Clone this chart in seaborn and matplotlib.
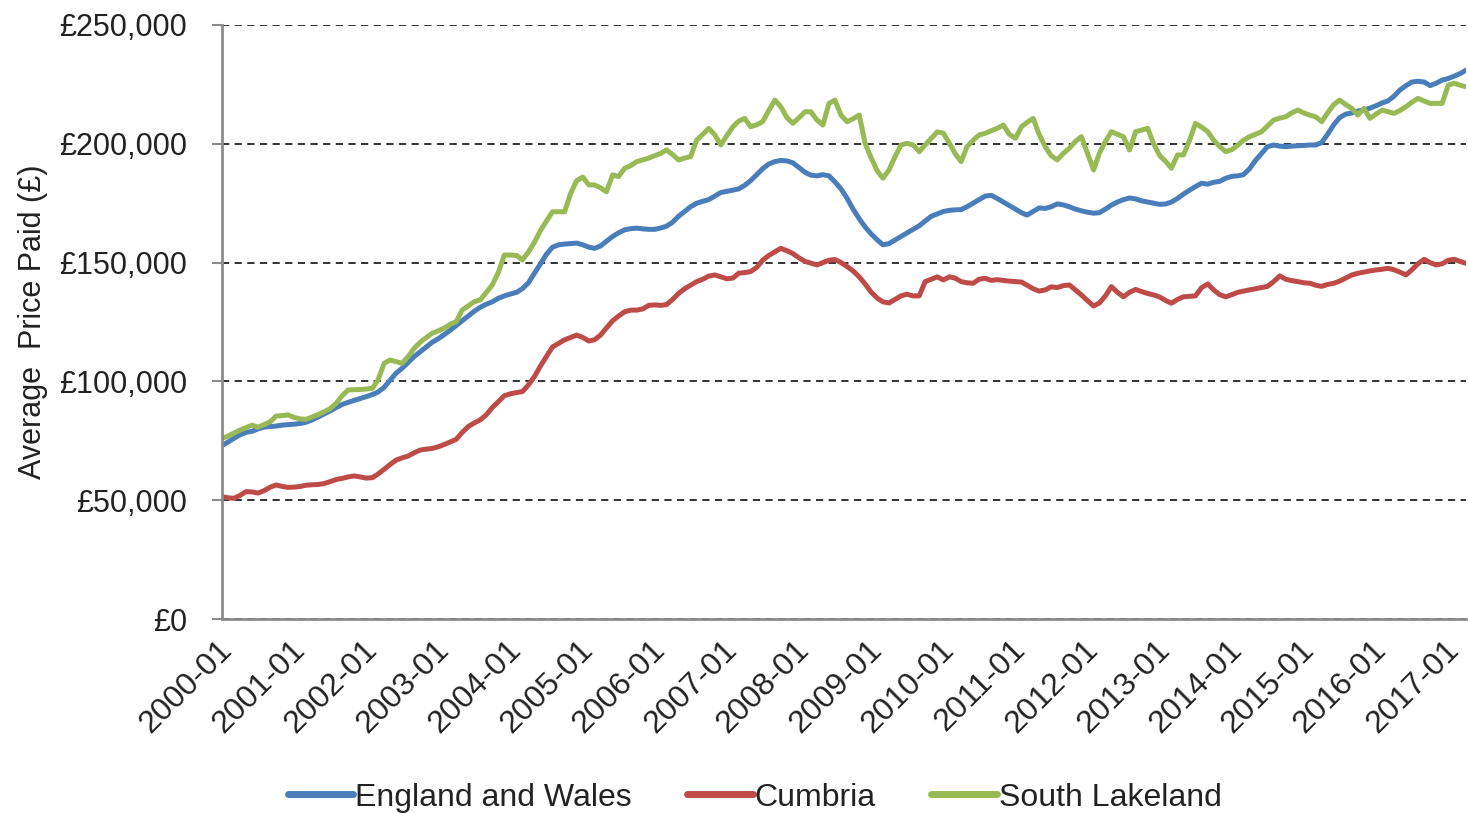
import matplotlib
matplotlib.use("Agg")
import matplotlib.pyplot as plt
import matplotlib.dates as mdates
from matplotlib.ticker import FuncFormatter, MultipleLocator
from matplotlib.transforms import ScaledTranslation
import numpy as np
import pandas as pd
import seaborn as sns

# Monthly average price paid, £ thousands, January 2000 to April 2017
months = pd.date_range("2000-01-01", "2017-04-01", freq="MS")

england_wales = [
    73.0, 74.5, 76.0, 77.5, 78.5, 79.0, 80.0, 80.8, 81.0, 81.2, 81.6, 81.8,        # 2000
    82.0, 82.3, 82.8, 83.8, 85.0, 86.3, 87.5, 89.0, 90.3, 91.2, 92.0, 92.8,        # 2001
    93.6, 94.5, 95.5, 97.5, 100.5, 103.5, 105.5, 108.0, 110.5, 112.5, 114.5, 116.5,  # 2002
    118.0, 119.8, 121.5, 123.5, 125.5, 127.5, 129.5, 131.2, 132.5, 133.5, 135.0, 136.0,  # 2003
    136.8, 137.5, 139.0, 141.5, 145.5, 149.5, 153.5, 156.5, 157.5, 157.8, 158.0, 158.2,  # 2004
    157.5, 156.5, 156.0, 157.0, 159.0, 161.0, 162.5, 163.8, 164.3, 164.5, 164.2, 164.0,  # 2005
    164.0, 164.6, 165.3, 167.0, 169.5, 171.5, 173.5, 175.0, 175.8, 176.5, 178.0, 179.5,  # 2006
    180.0, 180.5, 181.0, 182.5, 184.5, 187.0, 189.5, 191.5, 192.5, 193.0, 192.8, 192.0,  # 2007
    190.0, 188.0, 186.8, 186.5, 187.0, 186.5, 184.0, 181.0, 177.0, 172.5, 168.5, 165.0,  # 2008
    162.0, 159.5, 157.5, 158.0, 159.5, 161.0, 162.5, 164.0, 165.5, 167.5, 169.5, 170.5,  # 2009
    171.5, 172.0, 172.2, 172.3, 173.5, 175.0, 176.5, 178.0, 178.3, 177.0, 175.5, 174.0,  # 2010
    172.5, 171.0, 170.0, 171.5, 173.0, 172.8, 173.5, 174.7, 174.3, 173.5, 172.5, 171.8,  # 2011
    171.2, 170.8, 171.0, 172.5, 174.2, 175.5, 176.5, 177.2, 176.8, 176.0, 175.5, 175.0,  # 2012
    174.5, 174.7, 175.5, 177.0, 178.8, 180.5, 182.0, 183.4, 183.0, 183.8, 184.2, 185.5,  # 2013
    186.3, 186.5, 187.0, 189.5, 193.0, 196.0, 198.8, 199.5, 199.0, 198.8, 199.0, 199.2,  # 2014
    199.3, 199.5, 199.5, 200.5, 204.0, 208.0, 211.0, 212.5, 213.0, 213.8, 214.2, 215.0,  # 2015
    216.0, 217.2, 218.0, 220.0, 222.6, 224.5, 226.0, 226.3, 226.0, 224.5, 225.5, 226.8,  # 2016
    227.5, 228.5, 229.5, 231.0,                                                    # 2017
]

cumbria = [
    51.5, 51.0, 50.8, 52.0, 53.6, 53.5, 53.0, 54.0, 55.5, 56.4, 55.8, 55.4,        # 2000
    55.5, 55.8, 56.3, 56.5, 56.6, 57.0, 57.8, 58.7, 59.2, 59.8, 60.2, 59.8,        # 2001
    59.3, 59.5, 61.0, 63.0, 65.0, 66.9, 67.8, 68.6, 70.0, 71.1, 71.5, 71.8,        # 2002
    72.5, 73.5, 74.5, 75.6, 78.5, 81.0, 82.5, 83.8, 86.0, 89.0, 91.5, 94.0,        # 2003
    94.8, 95.3, 95.7, 98.5, 102.0, 106.5, 110.5, 114.5, 116.0, 117.5, 118.5, 119.5,  # 2004
    118.5, 117.0, 117.5, 119.5, 122.5, 125.5, 127.5, 129.3, 130.0, 130.0, 130.5, 132.0,  # 2005
    132.2, 132.0, 132.3, 134.5, 137.0, 139.0, 140.5, 142.0, 143.0, 144.3, 144.8, 144.0,  # 2006
    143.2, 143.5, 145.5, 145.8, 146.2, 148.0, 151.0, 153.0, 154.5, 156.0, 155.0, 153.8,  # 2007
    152.0, 150.5, 149.8, 149.0, 150.0, 151.0, 151.3, 150.0, 148.3, 146.5, 144.0, 141.0,  # 2008
    137.5, 135.0, 133.5, 133.0, 134.5, 136.0, 136.7, 136.0, 136.0, 142.0, 143.0, 144.0,  # 2009
    142.7, 144.0, 143.5, 142.0, 141.5, 141.3, 143.0, 143.4, 142.5, 142.8, 142.5, 142.2,  # 2010
    142.0, 141.8, 140.5, 139.0, 138.0, 138.5, 139.8, 139.5, 140.3, 140.6, 138.5, 136.4,  # 2011
    134.0, 131.7, 133.0, 136.0, 139.9, 137.5, 135.6, 137.5, 138.7, 137.8, 137.0, 136.4,  # 2012
    135.5, 134.0, 132.9, 134.5, 135.6, 135.8, 136.0, 139.5, 141.0, 138.5, 136.5, 135.6,  # 2013
    136.5, 137.5, 138.0, 138.5, 139.0, 139.5, 140.0, 142.0, 144.4, 143.0, 142.4, 142.0,  # 2014
    141.5, 141.3, 140.5, 140.0, 140.8, 141.3, 142.2, 143.5, 144.8, 145.5, 146.0, 146.5,  # 2015
    146.9, 147.2, 147.6, 147.0, 146.0, 144.8, 147.0, 149.5, 151.4, 150.0, 149.0, 149.5,  # 2016
    151.0, 151.4, 150.5, 149.7,                                                    # 2017
]

south_lakeland = [
    76.0, 77.0, 78.2, 79.5, 80.5, 81.6, 80.7, 81.8, 83.0, 85.4, 85.6, 85.9,        # 2000
    84.8, 84.2, 84.0, 85.0, 86.0, 87.2, 88.5, 90.8, 94.0, 96.4, 96.5, 96.6,        # 2001
    96.8, 97.1, 100.6, 107.6, 109.0, 108.3, 107.6, 110.5, 114.0, 116.5, 118.5, 120.3,  # 2002
    121.3, 122.5, 124.0, 125.1, 130.0, 131.8, 133.5, 134.3, 137.5, 140.6, 146.0, 153.2,  # 2003
    153.2, 153.0, 151.1, 154.5, 158.5, 163.5, 167.5, 171.4, 171.4, 171.4, 179.2, 184.5,  # 2004
    186.0, 182.7, 182.7, 181.5, 179.8, 186.9, 186.2, 189.7, 190.8, 192.5, 193.2, 194.0,  # 2005
    195.0, 196.0, 197.4, 195.5, 193.2, 194.0, 194.6, 201.6, 204.0, 206.5, 203.7, 199.5,  # 2006
    203.5, 207.2, 209.5, 210.7, 207.2, 208.0, 209.3, 214.0, 218.4, 215.6, 211.0, 208.6,  # 2007
    211.0, 213.5, 213.5, 210.0, 207.9, 217.0, 218.4, 212.0, 209.3, 210.5, 212.1, 200.2,  # 2008
    194.0, 188.5, 185.5, 189.0, 194.5, 199.5, 200.2, 199.5, 196.7, 199.5, 202.3, 205.0,  # 2009
    204.5, 200.2, 196.0, 192.5, 198.8, 201.5, 203.7, 204.4, 205.5, 206.5, 207.9, 204.0,  # 2010
    202.3, 207.2, 209.0, 210.7, 204.0, 198.8, 195.0, 193.2, 196.0, 198.1, 201.0, 203.0,  # 2011
    196.0, 189.0, 196.0, 201.0, 205.1, 204.0, 203.0, 197.4, 205.1, 205.8, 206.5, 200.0,  # 2012
    195.0, 192.5, 189.7, 195.3, 195.3, 201.5, 208.6, 207.0, 205.1, 201.5, 198.8, 196.7,  # 2013
    197.5, 199.5, 201.5, 203.0, 204.0, 205.1, 207.5, 210.0, 210.8, 211.4, 213.0, 214.2,  # 2014
    213.0, 212.0, 211.4, 209.3, 213.0, 216.5, 218.4, 216.5, 214.9, 212.1, 214.9, 210.7,  # 2015
    212.5, 214.2, 213.5, 212.8, 214.0, 215.6, 217.5, 219.1, 218.0, 217.0, 217.0, 217.0,  # 2016
    224.7, 225.5, 224.7, 224.0,                                                    # 2017
]

areas = ["England and Wales", "Cumbria", "South Lakeland"]
colours = ["#4A7EBB", "#BE4B48", "#98B954"]

frames = []
for name, vals in zip(areas, [england_wales, cumbria, south_lakeland]):
    frames.append(pd.DataFrame({"month": months, "price": np.array(vals) * 1000, "area": name}))
df = pd.concat(frames, ignore_index=True)

sns.set_theme(style="white")
plt.rcParams["font.family"] = ["Liberation Sans", "DejaVu Sans"]
text_col = "#222222"

fig = plt.figure(figsize=(14.68, 8.13), dpi=100)
ax = fig.add_axes([222 / 1468, (813 - 619) / 813, (1466 - 222) / 1468, (619 - 25) / 813])

sns.lineplot(data=df, x="month", y="price", hue="area", hue_order=areas,
             palette=colours, linewidth=3.6, ax=ax, legend=True)

ax.set_xlim(months[0], months[-1])
ax.set_ylim(0, 250000)
ax.yaxis.set_major_locator(MultipleLocator(50000))
ax.yaxis.set_major_formatter(FuncFormatter(lambda v, p: f"£{v:,.0f}"))
ax.xaxis.set_major_locator(mdates.MonthLocator(bymonth=1))
ax.xaxis.set_major_formatter(mdates.DateFormatter("%Y-%m"))

ax.yaxis.grid(True, linestyle=(0, (4, 3)), color="#222222", linewidth=1.3)
ax.xaxis.grid(False)

for side in ("top", "right"):
    ax.spines[side].set_visible(False)
for side in ("left", "bottom"):
    ax.spines[side].set_color("#8c8c8c")
    ax.spines[side].set_linewidth(2)

ax.tick_params(axis="y", length=7, width=1.5, color="#8c8c8c", pad=18,
               labelsize=22, labelcolor=text_col, left=True)
ax.tick_params(axis="x", length=0, pad=19, labelsize=23, labelcolor=text_col)

offset = ScaledTranslation(6 / 100, 0, fig.dpi_scale_trans)
for lab in ax.get_xticklabels():
    lab.set_rotation(45)
    lab.set_ha("right")
    lab.set_va("center")
    lab.set_rotation_mode("anchor")
    lab.set_transform(lab.get_transform() + offset)

ax.set_xlabel("")
ax.set_ylabel("Average  Price Paid (£)", fontsize=22, color=text_col)
ax.yaxis.set_label_coords(-0.140, 0.5)

handles, labels = ax.get_legend_handles_labels()
ax.get_legend().remove()
leg = fig.legend(handles, labels, loc="center", bbox_to_anchor=(0.514, 0.019),
                 ncol=3, frameon=False, fontsize=23, handlelength=2.05,
                 handletextpad=0.05, columnspacing=1.75, labelcolor=text_col)
for h in leg.get_lines():
    h.set_linewidth(5)

fig.savefig("out.png", dpi=100, facecolor="white")
